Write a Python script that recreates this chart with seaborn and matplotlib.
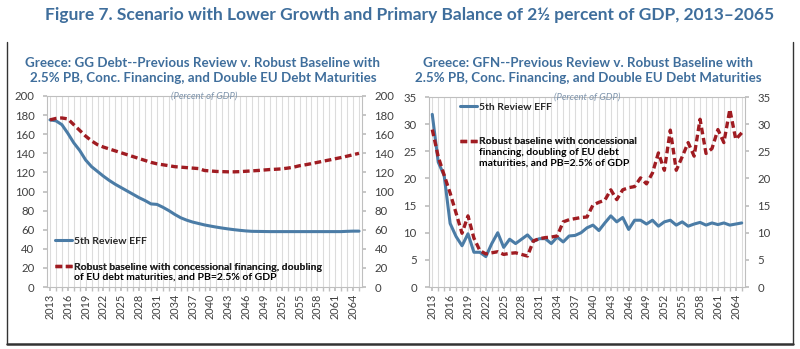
import matplotlib
matplotlib.use("Agg")
import matplotlib.pyplot as plt
import seaborn as sns
import pandas as pd
from matplotlib.lines import Line2D

years = list(range(2013, 2066))

gg_prev = [175, 174, 170, 161, 151, 143, 133, 126, 121, 116, 111.5, 107.5, 104, 100.5,
           97, 93.5, 90.5, 87, 86.5, 83.5, 80, 76, 72.5, 70, 68, 66.5, 65, 63.8, 62.7,
           61.7, 60.8, 60, 59.3, 58.7, 58.3, 58.2, 58.1, 58, 58, 58, 58, 58, 58, 58, 58,
           58, 58, 58, 58, 58, 58.3, 58.5, 58.5]
gg_robust = [175, 176.5, 177, 176, 170, 164, 158, 153, 149, 146.5, 144.5, 142.5, 140.5,
             138.5, 136.5, 134.5, 132.5, 130.5, 129, 128, 127, 126, 125.5, 125, 124.5,
             124, 122, 121.5, 121, 120.8, 120.6, 120.6, 120.8, 121.2, 121.6, 122, 122.5,
             123, 123.3, 123.7, 124.5, 125.5, 127, 128, 129.2, 130.5, 131.8, 133, 134.3,
             135.6, 137, 138.5, 140]

gfn_prev = [31.8, 23.0, 20.5, 11.7, 9.3, 7.6, 9.8, 6.4, 6.4, 5.6, 8.0, 10.0, 7.3, 8.8,
            8.0, 8.8, 9.6, 8.4, 8.9, 8.9, 8.0, 9.2, 8.3, 9.4, 9.5, 10.0, 10.9, 11.4, 10.4,
            11.8, 13.1, 12.0, 12.8, 10.6, 12.3, 12.3, 11.6, 12.3, 11.2, 12.0, 12.3, 11.4,
            12.0, 11.2, 11.6, 11.9, 11.4, 11.8, 11.5, 11.8, 11.4, 11.6, 11.8]
gfn_robust = [29.0, 24.0, 20.6, 17.3, 13.6, 9.9, 13.1, 9.0, 6.7, 6.1, 6.3, 6.5, 6.0, 6.2,
              6.3, 6.0, 5.7, 8.5, 8.9, 9.1, 9.2, 9.4, 12.0, 12.4, 12.6, 12.8, 12.9, 15.1,
              15.6, 16.0, 17.9, 16.1, 17.9, 18.3, 18.5, 20.1, 19.0, 21.0, 24.7, 21.5, 28.9,
              21.5, 24.0, 26.6, 24.1, 30.9, 24.6, 25.5, 29.0, 26.6, 32.7, 27.2, 28.4]

title = "Figure 7. Scenario with Lower Growth and Primary Balance of 2\u00bd percent of GDP, 2013\u20132065"
sub_left = "Greece: GG Debt--Previous Review v. Robust Baseline with\n2.5% PB, Conc. Financing, and Double EU Debt Maturities"
sub_right = "Greece: GFN--Previous Review v. Robust Baseline with\n2.5% PB, Conc. Financing, and Double EU Debt Maturities"
unit_label = "(Percent of GDP)"
lab_prev = "5th Review EFF"
lab_rob_left = ["Robust baseline with concessional financing, doubling",
                "of EU debt maturities, and PB=2.5% of GDP"]
lab_rob_right = ["Robust baseline with concessional",
                 "financing, doubling of EU debt\nmaturities, and PB=2.5% of GDP"]

sns.set_theme(style="white")
plt.rcParams["font.family"] = ["Lato", "DejaVu Sans"]

BLUE = "#4b7ca6"
RED = "#a01c22"
TITLE_C = "#3f6e9c"
GRID = "#dcdcdc"
SPINE = "#bfbfbf"
TICKC = "#404040"

W, H = 800, 349
fig = plt.figure(figsize=(W / 100, H / 100), dpi=100)


def rect(x0, x1, ytop, ybot):
    return [x0 / W, 1 - ybot / H, (x1 - x0) / W, (ybot - ytop) / H]


axL = fig.add_axes(rect(47, 362, 96, 287))
axR = fig.add_axes(rect(429.3, 744.7, 97, 287))

dfL = pd.DataFrame({"year": years, "prev": gg_prev, "robust": gg_robust})
dfR = pd.DataFrame({"year": years, "prev": gfn_prev, "robust": gfn_robust})


def style_axes(ax, ymax, ystep):
    ax.set_xlim(years[0] - 0.5, years[-1] + 0.5)
    ax.set_ylim(0, ymax)
    ax.set_xticks(years[::3])
    ax.set_xticks(years, minor=True)
    ax.set_xticklabels([str(y) for y in years[::3]], rotation=90)
    ax.set_yticks(list(range(0, ymax + 1, ystep)))
    ax.grid(True, which="both", axis="x", color=GRID, lw=0.8)
    ax.grid(False, axis="y")
    ax.set_axisbelow(True)
    for s in ax.spines.values():
        s.set_color(SPINE)
        s.set_linewidth(0.8)
        s.set_visible(True)
    ax.tick_params(axis="x", which="both", bottom=True, length=3, color=SPINE,
                   labelsize=7.8, labelcolor=TICKC, pad=2)
    ax.tick_params(axis="y", left=True, right=True, labelleft=True, labelright=True,
                   length=3, color=SPINE, labelsize=8.2, labelcolor=TICKC, pad=6)
    ax.set_xlabel("")
    ax.set_ylabel("")


for ax, df, ymax, ystep in [(axL, dfL, 200, 20), (axR, dfR, 35, 5)]:
    sns.lineplot(data=df, x="year", y="prev", ax=ax, color=BLUE, lw=2.2)
    sns.lineplot(data=df, x="year", y="robust", ax=ax, color=RED, lw=2.4,
                 linestyle=(0, (2.0, 1.1)))
    style_axes(ax, ymax, ystep)
    ax.text(0.5, 1.0, unit_label, transform=ax.transAxes, ha="center", va="center",
            fontsize=6.8, style="italic", color="#7f95ad")

h_blue = Line2D([], [], color=BLUE, lw=2.2)
h_red = Line2D([], [], color=RED, lw=2.4, linestyle=(0, (2.0, 1.1)))
LEGFS = 7.5

pending = []


def add_entry(ax, handle, first, rest, x, y):
    leg = ax.legend([handle], [first], loc="center left", bbox_to_anchor=(x, y),
                    frameon=False, borderpad=0, borderaxespad=0, handlelength=1.6,
                    handletextpad=0.2, prop={"weight": "bold", "size": LEGFS})
    ax.add_artist(leg)
    if rest:
        pending.append((leg, rest))
    return leg


add_entry(axL, h_blue, lab_prev, None, 0.025, 0.241)
add_entry(axL, h_red, lab_rob_left[0], lab_rob_left[1], 0.025, 0.105)
add_entry(axR, h_blue, lab_prev, None, 0.097, 0.947)
add_entry(axR, h_red, lab_rob_right[0], lab_rob_right[1], 0.097, 0.765)

fig.text(410 / W, 1 - 15 / H, title, ha="center", va="center", fontsize=12.5,
         fontweight="bold", color=TITLE_C)
fig.text(203 / W, 1 - 70.5 / H, sub_left, ha="center", va="center", fontsize=9.6,
         fontweight="bold", color=TITLE_C, linespacing=1.25)
fig.text(588 / W, 1 - 70.5 / H, sub_right, ha="center", va="center", fontsize=9.6,
         fontweight="bold", color=TITLE_C, linespacing=1.25)

# continuation lines of the multi-line legend labels, aligned under the label text
fig.canvas.draw()
renderer = fig.canvas.get_renderer()
for leg, rest in pending:
    bb = leg.get_texts()[0].get_window_extent(renderer)
    fig.text(bb.x0 / W, (bb.y0 - 1.5) / H, rest, ha="left", va="top",
             fontsize=LEGFS, fontweight="bold", color="black", linespacing=1.2)

# outer frame
for (x0, y0, x1, y1, lw) in [(7, 42, 7, 344, 1.0), (793, 42, 793, 344, 1.0),
                             (7, 344, 793, 344, 1.8)]:
    fig.add_artist(Line2D([x0 / W, x1 / W], [1 - y0 / H, 1 - y1 / H],
                          color="#333333", lw=lw, transform=fig.transFigure))

fig.savefig("out.png", dpi=100)
